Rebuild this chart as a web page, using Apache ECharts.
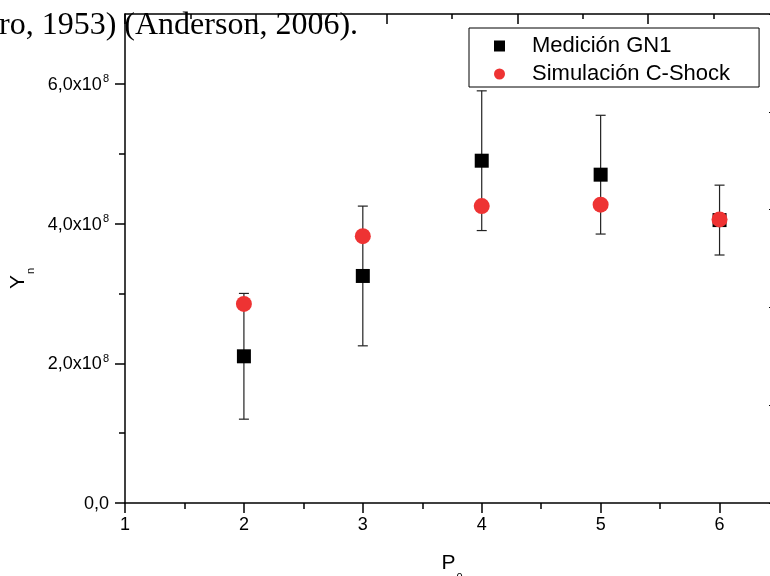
<!DOCTYPE html>
<html>
<head>
<meta charset="utf-8">
<script src="https://cdn.jsdelivr.net/npm/echarts@6/dist/echarts.min.js"></script>
<style>
  html, body { margin: 0; padding: 0; background: #fff; }
  #chart { width: 770px; height: 576px; }
</style>
</head>
<body>
<div id="chart"></div>
<script>
// Pulse number P0 and neutron yield Yn
const pulseValues = [2, 3, 4, 5, 6];
const measuredYield = [2.10e8, 3.25e8, 4.90e8, 4.70e8, 4.05e8];
const measuredError = [0.90e8, 1.00e8, 1.00e8, 0.85e8, 0.50e8];
const simulatedYield = [2.85e8, 3.82e8, 4.25e8, 4.27e8, 4.06e8];

const seriesNames = ['Medición GN1', 'Simulación C-Shock'];

// Axis ticks and labels
const xTickValues = [1, 2, 3, 4, 5, 6];
const xTickLabels = ['1', '2', '3', '4', '5', '6'];
const xMinorTickValues = [1.5, 2.5, 3.5, 4.5, 5.5];
const yTickValues = [0, 2e8, 4e8, 6e8];
const yTickMantissa = ['0,0', '2,0x10', '4,0x10', '6,0x10'];
const yTickExponent = ['', '8', '8', '8'];
const yMinorTickValues = [1e8, 3e8, 5e8];

const headerText = 'ro, 1953) (Anderson, 2006).';

const FONT = '"Liberation Sans", Arial, sans-serif';
const AXIS_W = 1.5;

const chart = echarts.init(document.getElementById('chart'), null, { renderer: 'canvas' });

const errorData = pulseValues.map((x, i) => [x, measuredYield[i], measuredError[i]]);

const option = {
  animation: false,
  backgroundColor: '#fff',
  grid: {
    left: 125, top: 14, width: 654, bottom: 73,
    containLabel: false,
    outerBoundsMode: 'none'
  },
  legend: {
    orient: 'vertical',
    left: 469, top: 28,
    padding: [6, 29, 1, 25],
    itemWidth: 11, itemHeight: 11,
    itemGap: 4,
    borderColor: '#000', borderWidth: 1,
    backgroundColor: '#fff',
    textStyle: { fontFamily: FONT, fontSize: 22, lineHeight: 24, color: '#000', padding: [0, 0, 0, 22] },
    data: [
      { name: seriesNames[0], icon: 'rect' },
      { name: seriesNames[1], icon: 'circle' }
    ]
  },
  graphic: [
    {
      type: 'text', left: -1, top: 10, z: 100,
      style: { text: headerText, font: '32px "Liberation Serif", "Times New Roman", serif', fill: '#000' }
    }
  ],
  xAxis: [
    {
      type: 'value', position: 'bottom', min: 1, max: 6.5, interval: 1,
      axisLine: { onZero: false, lineStyle: { color: '#000', width: AXIS_W } },
      axisTick: { customValues: xTickValues, length: 10, lineStyle: { color: '#000', width: AXIS_W } },
      axisLabel: {
        customValues: xTickValues, margin: 13, color: '#000', fontFamily: FONT, fontSize: 18,
        formatter: v => xTickLabels[xTickValues.indexOf(v)] ?? ''
      },
      splitLine: { show: false },
      name: '{p|P}{s|0}',
      nameLocation: 'middle', nameGap: 50,
      nameTextStyle: {
        color: '#000', fontFamily: FONT,
        rich: {
          p: { fontFamily: FONT, fontSize: 21, lineHeight: 24, verticalAlign: 'top', color: '#000' },
          s: { fontFamily: FONT, fontSize: 11, lineHeight: 11, verticalAlign: 'top', padding: [19, 0, 0, 1], color: '#000' }
        }
      }
    },
    {
      type: 'value', position: 'bottom', min: 1, max: 6.5,
      axisLine: { show: false, onZero: false },
      axisTick: { customValues: xMinorTickValues, length: 6, lineStyle: { color: '#000', width: AXIS_W } },
      axisLabel: { show: false },
      splitLine: { show: false }
    },
    {
      type: 'value', position: 'top', min: 0, max: 5, interval: 1,
      axisLine: { onZero: false, lineStyle: { color: '#000', width: AXIS_W } },
      axisTick: { inside: true, length: 10, lineStyle: { color: '#000', width: AXIS_W } },
      minorTick: { show: true, splitNumber: 2, length: 5, lineStyle: { color: '#000', width: AXIS_W } },
      axisLabel: { show: false },
      splitLine: { show: false }
    }
  ],
  yAxis: [
    {
      type: 'value', position: 'left', min: 0, max: 7e8, interval: 2e8,
      axisLine: { onZero: false, lineStyle: { color: '#000', width: AXIS_W } },
      axisTick: { customValues: yTickValues, length: 10, lineStyle: { color: '#000', width: AXIS_W } },
      axisLabel: {
        customValues: yTickValues, margin: 16, color: '#000', fontFamily: FONT, fontSize: 18,
        formatter: v => {
          const i = yTickValues.indexOf(v);
          if (i < 0) return '';
          return yTickExponent[i] ? '{m|' + yTickMantissa[i] + '}{e|' + yTickExponent[i] + '}' : '{m|' + yTickMantissa[i] + '}';
        },
        rich: {
          m: { fontFamily: FONT, fontSize: 18, lineHeight: 20, verticalAlign: 'bottom', color: '#000' },
          e: { fontFamily: FONT, fontSize: 11, lineHeight: 11, verticalAlign: 'top', padding: [0, 0, 0, 1], color: '#000' }
        }
      },
      splitLine: { show: false },
      name: '{y|Y}{s|n}',
      nameLocation: 'middle', nameGap: 92, nameRotate: 90,
      nameTextStyle: {
        color: '#000', fontFamily: FONT, padding: [0, 40, 0, 0],
        rich: {
          y: { fontFamily: FONT, fontSize: 21, lineHeight: 24, verticalAlign: 'top', color: '#000' },
          s: { fontFamily: FONT, fontSize: 11, lineHeight: 11, verticalAlign: 'top', padding: [18, 0, 0, 1], color: '#000' }
        }
      }
    },
    {
      type: 'value', position: 'left', min: 0, max: 7e8,
      axisLine: { show: false, onZero: false },
      axisTick: { customValues: yMinorTickValues, length: 6, lineStyle: { color: '#000', width: AXIS_W } },
      axisLabel: { show: false },
      splitLine: { show: false }
    },
    {
      type: 'value', position: 'right', min: 0, max: 5, interval: 1,
      axisLine: { onZero: false, lineStyle: { color: '#000', width: AXIS_W } },
      axisTick: { inside: true, length: 10, lineStyle: { color: '#000', width: 1 } },
      axisLabel: { show: false },
      splitLine: { show: false }
    }
  ],
  series: [
    {
      type: 'custom',
      name: 'error',
      xAxisIndex: 0, yAxisIndex: 0,
      silent: true,
      z: 2,
      data: errorData,
      renderItem: (params, api) => {
        const x = api.value(0), y = api.value(1), e = api.value(2);
        const top = api.coord([x, y + e]);
        const bot = api.coord([x, y - e]);
        const cap = 5;
        const style = { stroke: '#222', lineWidth: 1.2, fill: null };
        return {
          type: 'group',
          children: [
            { type: 'line', shape: { x1: top[0], y1: top[1], x2: bot[0], y2: bot[1] }, style },
            { type: 'line', shape: { x1: top[0] - cap, y1: top[1], x2: top[0] + cap, y2: top[1] }, style },
            { type: 'line', shape: { x1: bot[0] - cap, y1: bot[1], x2: bot[0] + cap, y2: bot[1] }, style }
          ]
        };
      }
    },
    {
      type: 'scatter',
      name: seriesNames[0],
      xAxisIndex: 0, yAxisIndex: 0,
      symbol: 'rect', symbolSize: 14,
      itemStyle: { color: '#000', opacity: 1 },
      z: 3,
      data: pulseValues.map((x, i) => [x, measuredYield[i]])
    },
    {
      type: 'scatter',
      name: seriesNames[1],
      xAxisIndex: 0, yAxisIndex: 0,
      symbol: 'circle', symbolSize: 16,
      itemStyle: { color: '#ee3333', opacity: 1 },
      z: 4,
      data: pulseValues.map((x, i) => [x, simulatedYield[i]])
    }
  ]
};

chart.setOption(option);
</script>
</body>
</html>
